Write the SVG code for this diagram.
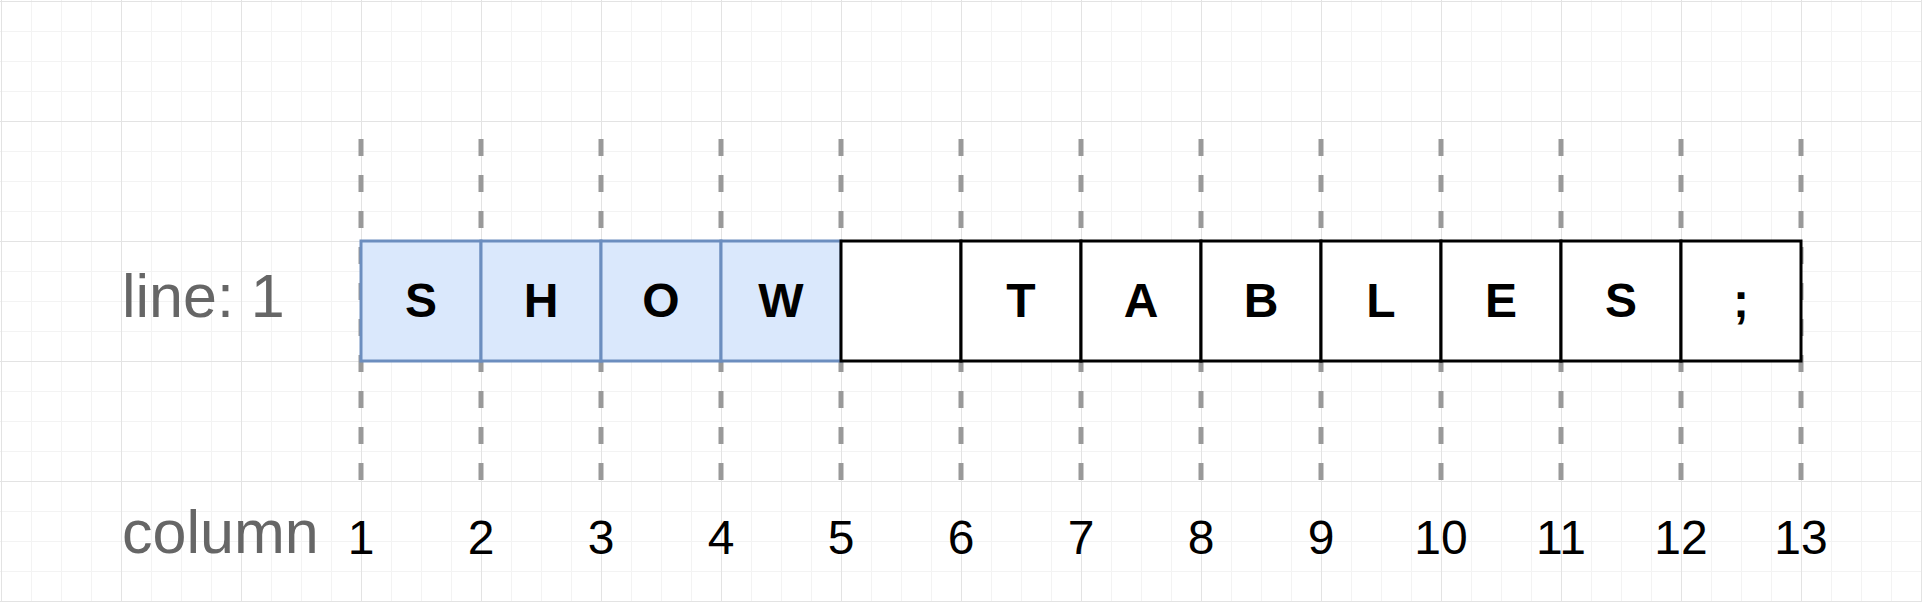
<svg xmlns="http://www.w3.org/2000/svg" width="1922" height="602" viewBox="0 0 1922 602">
<style>
.lbl{font-family:"Liberation Sans",Arial,sans-serif;font-size:61px;fill:#666666}
.num{font-family:"Liberation Sans",Arial,sans-serif;font-size:48px;fill:#000000;text-anchor:middle}
.ch{font-family:"Liberation Sans",Arial,sans-serif;font-size:48px;font-weight:bold;fill:#000000;text-anchor:middle}
.dash{stroke:#999999;stroke-width:5;stroke-dasharray:17 19;fill:none}
.blue{fill:#dae8fc;stroke:#6c8ebf;stroke-width:3}
.plain{fill:#ffffff;stroke:#000000;stroke-width:3}
</style>
<defs>
<pattern id="gMinor" width="30" height="30" patternUnits="userSpaceOnUse" x="1" y="1">
<path d="M0 0.5H30M0.5 0V30" stroke="#f3f3f3" stroke-width="1" fill="none"/>
</pattern>
<pattern id="gMajor" width="120" height="120" patternUnits="userSpaceOnUse" x="1" y="1">
<path d="M0 0.5H120M0.5 0V120" stroke="#e3e3e3" stroke-width="1" fill="none"/>
</pattern>
</defs>
<rect width="1922" height="602" fill="#ffffff"/>
<rect width="1922" height="602" fill="url(#gMinor)"/>
<rect width="1922" height="602" fill="url(#gMajor)"/>

<g id="connectors">
<path class="dash" d="M361 139V481M481 139V481M601 139V481M721 139V481M841 139V481M961 139V481M1081 139V481M1201 139V481M1321 139V481M1441 139V481M1561 139V481M1681 139V481M1801 139V481"/>
</g>

<g id="label-line"><text class="lbl" x="122" y="317">line: 1</text></g>
<g id="label-column"><text class="lbl" x="122" y="553">column</text></g>

<g id="cell-1"><rect class="blue" x="361" y="241" width="120" height="120"/><text class="ch" x="421" y="317">S</text></g>
<g id="cell-2"><rect class="blue" x="481" y="241" width="120" height="120"/><text class="ch" x="541" y="317">H</text></g>
<g id="cell-3"><rect class="blue" x="601" y="241" width="120" height="120"/><text class="ch" x="661" y="317">O</text></g>
<g id="cell-4"><rect class="blue" x="721" y="241" width="120" height="120"/><text class="ch" x="781" y="317">W</text></g>
<g id="cell-5"><rect class="plain" x="841" y="241" width="120" height="120"/></g>
<g id="cell-6"><rect class="plain" x="961" y="241" width="120" height="120"/><text class="ch" x="1021" y="317">T</text></g>
<g id="cell-7"><rect class="plain" x="1081" y="241" width="120" height="120"/><text class="ch" x="1141" y="317">A</text></g>
<g id="cell-8"><rect class="plain" x="1201" y="241" width="120" height="120"/><text class="ch" x="1261" y="317">B</text></g>
<g id="cell-9"><rect class="plain" x="1321" y="241" width="120" height="120"/><text class="ch" x="1381" y="317">L</text></g>
<g id="cell-10"><rect class="plain" x="1441" y="241" width="120" height="120"/><text class="ch" x="1501" y="317">E</text></g>
<g id="cell-11"><rect class="plain" x="1561" y="241" width="120" height="120"/><text class="ch" x="1621" y="317">S</text></g>
<g id="cell-12"><rect class="plain" x="1681" y="241" width="120" height="120"/><text class="ch" x="1741" y="317">;</text></g>

<g id="column-numbers">
<text class="num" x="361" y="554">1</text>
<text class="num" x="481" y="554">2</text>
<text class="num" x="601" y="554">3</text>
<text class="num" x="721" y="554">4</text>
<text class="num" x="841" y="554">5</text>
<text class="num" x="961" y="554">6</text>
<text class="num" x="1081" y="554">7</text>
<text class="num" x="1201" y="554">8</text>
<text class="num" x="1321" y="554">9</text>
<text class="num" x="1441" y="554">10</text>
<text class="num" x="1561" y="554">11</text>
<text class="num" x="1681" y="554">12</text>
<text class="num" x="1801" y="554">13</text>
</g>
</svg>
